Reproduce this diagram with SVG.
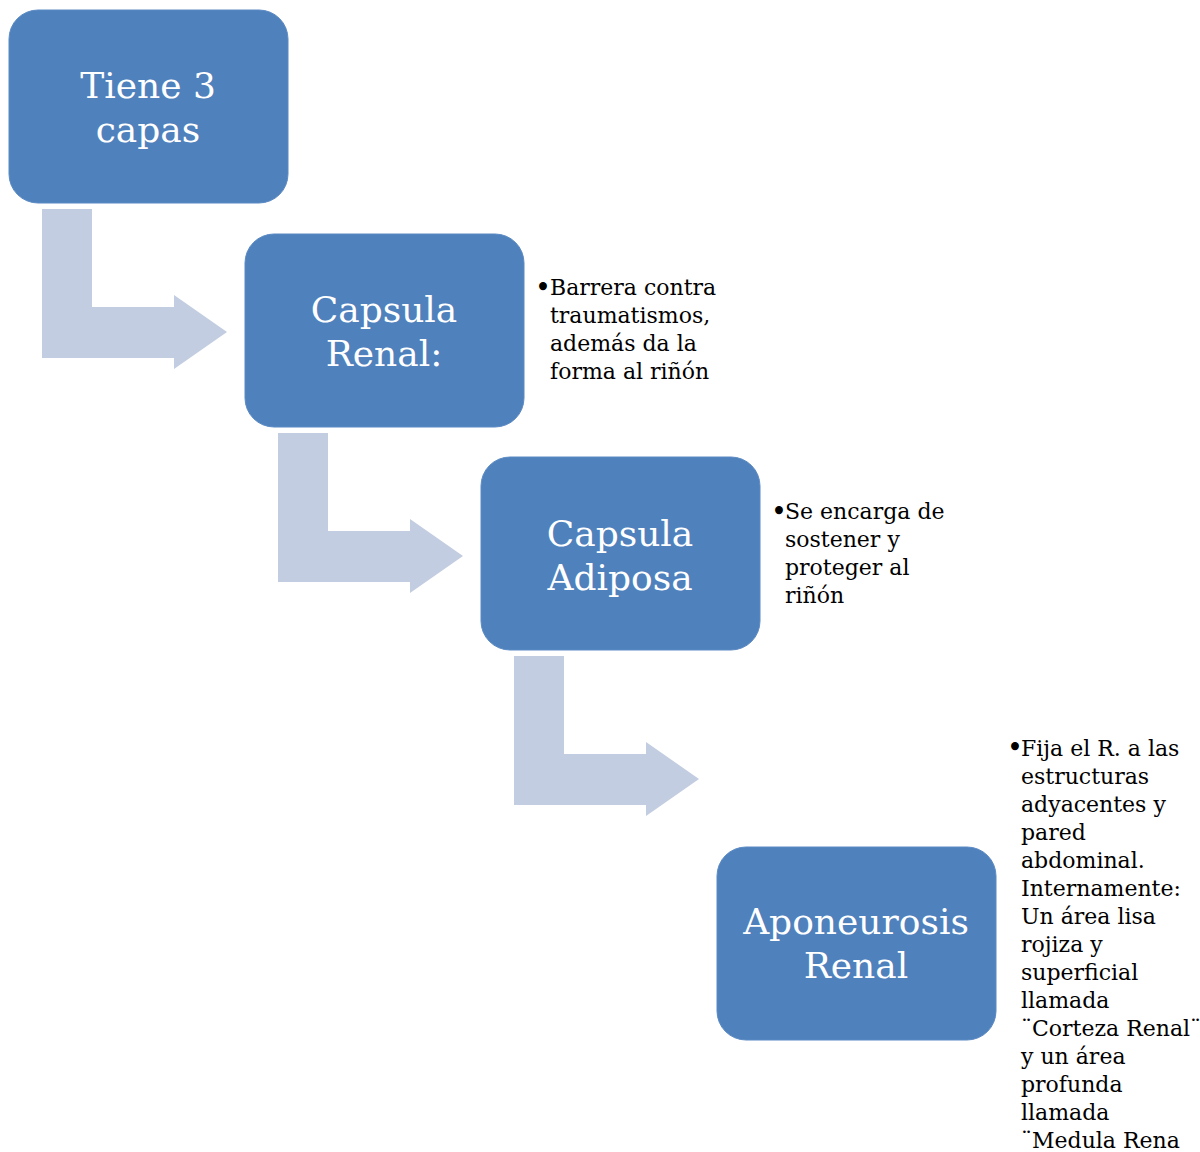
<svg xmlns="http://www.w3.org/2000/svg" width="1200" height="1152" viewBox="0 0 1200 1152">
<style>
.box{fill:#4F81BD;stroke:#5B8AC3;stroke-width:1}
.lbl{font-family:"DejaVu Serif","Liberation Serif",serif;font-size:36px;fill:#FFFFFF;text-anchor:middle}
.note{font-family:"DejaVu Serif","Liberation Serif",serif;font-size:22px;fill:#000000}
.bul{font-family:"DejaVu Serif","Liberation Serif",serif;font-size:27px;fill:#000000}
.arr{fill:#C3CDE1}
</style>
<rect width="1200" height="1152" fill="#FFFFFF"/>
<g id="connectors">
<path class="arr" d="M42,209 H92 V307 H174 V295 L227,332 L174,369 V358 H42 Z"/>
<path class="arr" transform="translate(236,224)" d="M42,209 H92 V307 H174 V295 L227,332 L174,369 V358 H42 Z"/>
<path class="arr" transform="translate(472,447)" d="M42,209 H92 V307 H174 V295 L227,332 L174,369 V358 H42 Z"/>
</g>
<g id="node1">
<rect class="box" x="9" y="10" width="279" height="193" rx="29"/>
<text class="lbl" x="148" y="98">Tiene 3</text>
<text class="lbl" x="148" y="142">capas</text>
</g>
<g id="node2">
<rect class="box" x="245" y="234" width="279" height="193" rx="29"/>
<text class="lbl" x="384" y="322">Capsula</text>
<text class="lbl" x="384" y="366">Renal:</text>
</g>
<g id="node3">
<rect class="box" x="481" y="457" width="279" height="193" rx="29"/>
<text class="lbl" x="620" y="546">Capsula</text>
<text class="lbl" x="620" y="590">Adiposa</text>
</g>
<g id="node4">
<rect class="box" x="717" y="847" width="279" height="193" rx="29"/>
<text class="lbl" x="856" y="934">Aponeurosis</text>
<text class="lbl" x="856" y="978">Renal</text>
</g>
<g id="note1">
<text class="bul" x="535" y="297">•</text>
<text class="note">
<tspan x="550" y="295">Barrera contra</tspan>
<tspan x="550" y="323">traumatismos,</tspan>
<tspan x="550" y="351">además da la</tspan>
<tspan x="550" y="379">forma al riñón</tspan>
</text>
</g>
<g id="note2">
<text class="bul" x="771" y="521">•</text>
<text class="note">
<tspan x="785" y="519">Se encarga de</tspan>
<tspan x="785" y="547">sostener y</tspan>
<tspan x="785" y="575">proteger al</tspan>
<tspan x="785" y="603">riñón</tspan>
</text>
</g>
<g id="note3">
<text class="bul" x="1007" y="757">•</text>
<text class="note">
<tspan x="1021" y="756">Fija el R. a las</tspan>
<tspan x="1021" y="784">estructuras</tspan>
<tspan x="1021" y="812">adyacentes y</tspan>
<tspan x="1021" y="840">pared</tspan>
<tspan x="1021" y="868">abdominal.</tspan>
<tspan x="1021" y="896">Internamente:</tspan>
<tspan x="1021" y="924">Un área lisa</tspan>
<tspan x="1021" y="952">rojiza y</tspan>
<tspan x="1021" y="980">superficial</tspan>
<tspan x="1021" y="1008">llamada</tspan>
<tspan x="1021" y="1036">¨Corteza Renal¨</tspan>
<tspan x="1021" y="1064">y un área</tspan>
<tspan x="1021" y="1092">profunda</tspan>
<tspan x="1021" y="1120">llamada</tspan>
<tspan x="1021" y="1148">¨Medula Rena</tspan>
</text>
</g>
</svg>
